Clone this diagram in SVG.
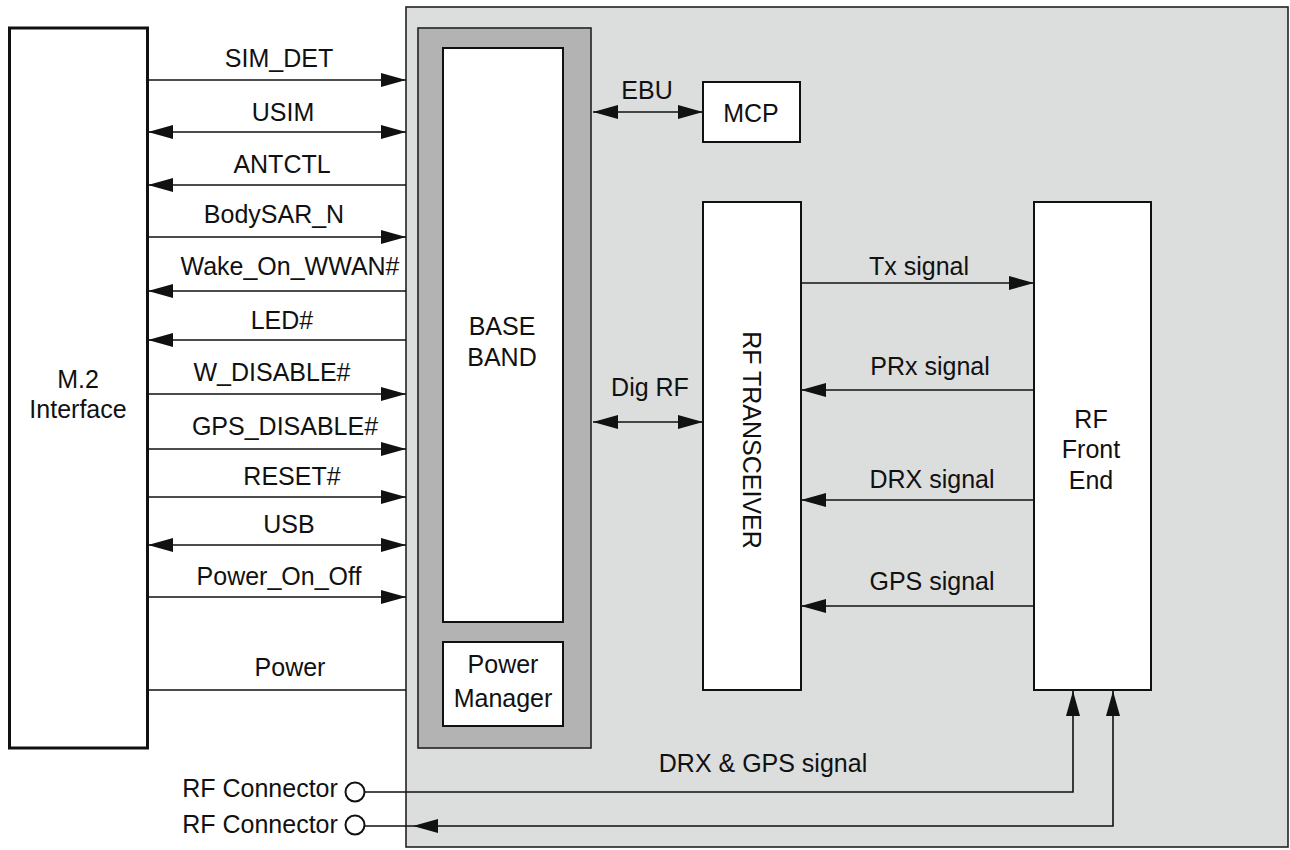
<svg xmlns="http://www.w3.org/2000/svg" width="1290" height="850" viewBox="0 0 1290 850">
<style>
text{font-family:"Liberation Sans",Arial,sans-serif;font-size:25px;fill:#111;text-anchor:middle}
.box{fill:#fff;stroke:#111;stroke-width:2}
.ln{fill:none;stroke:#111;stroke-width:1.6}
</style>
<defs>
<marker id="ah" markerUnits="userSpaceOnUse" markerWidth="26" markerHeight="16" refX="25" refY="7" orient="auto-start-reverse">
<path d="M0,0 L25,7 L0,14 z" fill="#111"/>
</marker>
</defs>
<rect width="1290" height="850" fill="#fff"/>
<g id="module">
<rect x="406" y="7" width="882" height="840" fill="#dcdddd" stroke="#222" stroke-width="1.6"/>
</g>
<g id="m2">
<rect x="9.5" y="28" width="138" height="720" fill="#fff" stroke="#111" stroke-width="3"/>
<text x="78" y="388">M.2</text>
<text x="78" y="418">Interface</text>
</g>
<g id="baseband">
<rect x="418" y="28" width="173" height="720" fill="#b3b3b3" stroke="#222" stroke-width="1.6"/>
<rect class="box" x="443" y="48" width="120" height="574"/>
<text x="502" y="335">BASE</text>
<text x="502" y="366">BAND</text>
</g>
<g id="power-manager">
<rect class="box" x="443" y="642" width="120" height="84"/>
<text x="503" y="673">Power</text>
<text x="503" y="707">Manager</text>
</g>
<g id="mcp">
<rect class="box" x="703" y="82" width="97" height="60"/>
<text x="751" y="122">MCP</text>
</g>
<g id="transceiver">
<rect class="box" x="703" y="202" width="98" height="488"/>
<text transform="translate(743,440) rotate(90)">RF TRANSCEIVER</text>
</g>
<g id="frontend">
<rect class="box" x="1034" y="202" width="117" height="488"/>
<text x="1091" y="428">RF</text>
<text x="1091" y="458">Front</text>
<text x="1091" y="489">End</text>
</g>
<g id="rfconn1">
<circle cx="355" cy="792" r="9.5" fill="#fff" stroke="#111" stroke-width="2"/>
<text x="260" y="797">RF Connector</text>
</g>
<g id="rfconn2">
<circle cx="355" cy="825" r="9.5" fill="#fff" stroke="#111" stroke-width="2"/>
<text x="260" y="833">RF Connector</text>
</g>
<g id="connectors">
<line class="ln" x1="148" y1="80" x2="406" y2="80" marker-end="url(#ah)"/>
<line class="ln" x1="148" y1="132" x2="406" y2="132" marker-start="url(#ah)" marker-end="url(#ah)"/>
<line class="ln" x1="406" y1="185" x2="148" y2="185" marker-end="url(#ah)"/>
<line class="ln" x1="148" y1="237" x2="406" y2="237" marker-end="url(#ah)"/>
<line class="ln" x1="406" y1="291" x2="148" y2="291" marker-end="url(#ah)"/>
<line class="ln" x1="406" y1="340" x2="148" y2="340" marker-end="url(#ah)"/>
<line class="ln" x1="148" y1="394" x2="406" y2="394" marker-end="url(#ah)"/>
<line class="ln" x1="148" y1="449" x2="406" y2="449" marker-end="url(#ah)"/>
<line class="ln" x1="148" y1="497" x2="406" y2="497" marker-end="url(#ah)"/>
<line class="ln" x1="148" y1="545" x2="406" y2="545" marker-start="url(#ah)" marker-end="url(#ah)"/>
<line class="ln" x1="148" y1="597" x2="406" y2="597" marker-end="url(#ah)"/>
<line class="ln" x1="148" y1="690" x2="406" y2="690"/>
<line class="ln" x1="593" y1="112" x2="703" y2="112" marker-start="url(#ah)" marker-end="url(#ah)"/>
<line class="ln" x1="593" y1="422" x2="703" y2="422" marker-start="url(#ah)" marker-end="url(#ah)"/>
<line class="ln" x1="801" y1="283" x2="1034" y2="283" marker-end="url(#ah)"/>
<line class="ln" x1="1034" y1="390" x2="801" y2="390" marker-end="url(#ah)"/>
<line class="ln" x1="1034" y1="500" x2="801" y2="500" marker-end="url(#ah)"/>
<line class="ln" x1="1034" y1="606" x2="801" y2="606" marker-end="url(#ah)"/>
<path class="ln" d="M364.5,792 H1073 V691" marker-end="url(#ah)"/>
<path class="ln" d="M1113,691 V826 H413" marker-start="url(#ah)" marker-end="url(#ah)"/>
<line class="ln" x1="413" y1="826" x2="364.5" y2="826"/>
<text x="279" y="67">SIM_DET</text>
<text x="283" y="121">USIM</text>
<text x="282" y="173">ANTCTL</text>
<text x="274" y="223">BodySAR_N</text>
<text x="290" y="275">Wake_On_WWAN#</text>
<text x="282" y="329">LED#</text>
<text x="272" y="381">W_DISABLE#</text>
<text x="285" y="435">GPS_DISABLE#</text>
<text x="292" y="485">RESET#</text>
<text x="289" y="533">USB</text>
<text x="279" y="585">Power_On_Off</text>
<text x="290" y="676">Power</text>
<text x="647" y="99">EBU</text>
<text x="650" y="396">Dig RF</text>
<text x="919" y="275">Tx signal</text>
<text x="930" y="375">PRx signal</text>
<text x="932" y="488">DRX signal</text>
<text x="932" y="590">GPS signal</text>
<text x="763" y="772">DRX &amp; GPS signal</text>
</g>
</svg>
